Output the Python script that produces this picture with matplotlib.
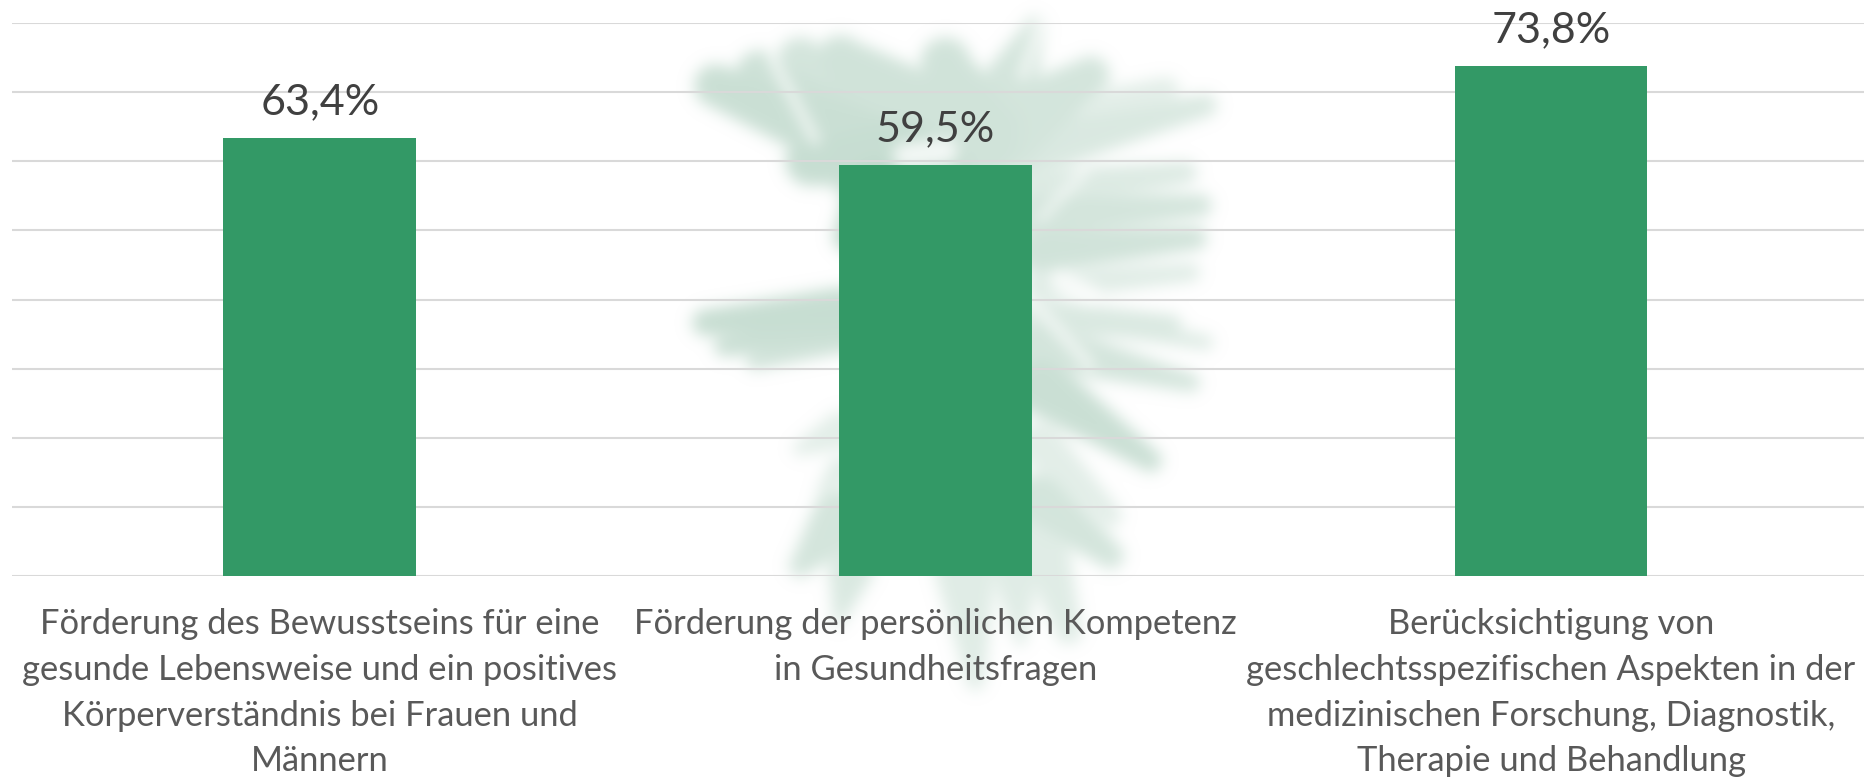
import numpy as np
import matplotlib
matplotlib.use("Agg")
import matplotlib.pyplot as plt

# Data
categories = [
    "Förderung des Bewusstseins für eine\ngesunde Lebensweise und ein positives\nKörperverständnis bei Frauen und\nMännern",
    "Förderung der persönlichen Kompetenz\nin Gesundheitsfragen",
    "Berücksichtigung von\ngeschlechtsspezifischen Aspekten in der\nmedizinischen Forschung, Diagnostik,\nTherapie und Behandlung",
]
values = [63.4, 59.5, 73.8]
value_labels = ["63,4%", "59,5%", "73,8%"]
y_ticks = [0, 10, 20, 30, 40, 50, 60, 70, 80]

W, H = 1865, 779

# Watermark feathers in pixels: x0, y0, x1, y1, root width, tip width, strength
feathers = [
    (930, 170, 715, 85, 50, 26, 0.85), (900, 180, 760, 75, 60, 30, 0.8), (880, 150, 800, 60, 55, 28, 0.7),
    (930, 140, 840, 60, 70, 30, 0.75), (960, 130, 945, 62, 70, 30, 0.75), (990, 130, 1035, 25, 50, 14, 0.7),
    (1010, 130, 1090, 75, 45, 24, 0.7), (1020, 150, 1205, 105, 34, 16, 0.6), (1020, 125, 1165, 90, 25, 18, 0.45),
    (900, 150, 810, 160, 40, 30, 0.9), (880, 190, 850, 235, 42, 22, 1.0),
    (1040, 190, 1185, 172, 26, 16, 0.55), (1040, 215, 1200, 205, 28, 16, 0.7), (1040, 250, 1195, 238, 28, 16, 0.75),
    (1040, 285, 1190, 272, 20, 14, 0.5), (1040, 318, 1170, 325, 24, 16, 0.6),
    (840, 310, 705, 322, 28, 18, 0.9), (840, 325, 725, 345, 26, 16, 0.85), (845, 335, 755, 360, 22, 14, 0.75),
    (1040, 312, 1205, 342, 20, 12, 0.55), (1040, 345, 1190, 382, 30, 14, 0.7), (1040, 385, 1150, 460, 34, 16, 0.85),
    (1040, 445, 1110, 515, 28, 16, 0.45), (1040, 500, 1110, 555, 32, 18, 0.7), (1040, 535, 1068, 630, 32, 18, 0.5),
    (840, 430, 800, 448, 24, 12, 0.45), (840, 470, 822, 490, 18, 10, 0.5), (840, 520, 800, 565, 36, 16, 0.7),
    (850, 570, 838, 620, 28, 10, 0.6), (965, 570, 975, 680, 36, 14, 0.5), (1015, 570, 1020, 640, 30, 10, 0.5),
]
# Lighter streaks in the watermark: x0, y0, x1, y1, width
streaks = [
    (770, 55, 815, 140, 7), (1040, 20, 1022, 75, 7), (1085, 170, 1040, 218, 6),
    (1035, 305, 1090, 365, 7), (1060, 280, 1090, 295, 13), (905, 155, 945, 150, 15),
]


def segment_param(xx, yy, x0, y0, x1, y1):
    dx, dy = x1 - x0, y1 - y0
    t = np.clip(((xx - x0) * dx + (yy - y0) * dy) / (dx * dx + dy * dy), 0, 1)
    dist = np.hypot(xx - (x0 + t * dx), yy - (y0 + t * dy))
    return t, dist


def blur(img, sigma):
    # separable gaussian, just to get the washed out look of the logo
    r = int(3 * sigma)
    k = np.exp(-0.5 * (np.arange(-r, r + 1) / sigma) ** 2)
    k /= k.sum()
    img = np.apply_along_axis(lambda m: np.convolve(m, k, mode='same'), 0, img)
    return np.apply_along_axis(lambda m: np.convolve(m, k, mode='same'), 1, img)


def watermark_image():
    yy, xx = np.mgrid[0:H, 0:W]
    alpha = np.zeros((H, W))
    for x0, y0, x1, y1, w0, w1, s in feathers:
        t, dist = segment_param(xx, yy, x0, y0, x1, y1)
        half = w0 + (w1 - w0) * t
        edge = np.clip((half - dist) / 10.0, 0, 1)
        alpha = np.maximum(alpha, edge * s)
    for x0, y0, x1, y1, w in streaks:
        t, dist = segment_param(xx, yy, x0, y0, x1, y1)
        alpha *= 1 - 0.8 * np.clip((w - dist) / 5.0, 0, 1)
    alpha = blur(alpha, 7)
    rgba = np.zeros((H, W, 4))
    rgba[..., 0] = 0xC2 / 255
    rgba[..., 1] = 0xDB / 255
    rgba[..., 2] = 0xCD / 255
    rgba[..., 3] = alpha
    return rgba


plt.rcParams['font.family'] = ['Lato', 'DejaVu Sans']

fig = plt.figure(figsize=(W / 100, H / 100), dpi=100, facecolor='white')

# Watermark behind everything, full figure
bg = fig.add_axes([0, 0, 1, 1], zorder=0)
bg.imshow(watermark_image(), extent=(0, W, H, 0), aspect='auto', interpolation='bilinear')
bg.axis('off')

ax = fig.add_axes([12 / W, 1 - 576 / H, (W - 12) / W, (576 - 23) / H], zorder=1)
ax.patch.set_alpha(0)

x = np.arange(len(values))
ax.bar(x, values, width=0.313, color='#339966', zorder=3)
for xi, v, lab in zip(x, values, value_labels):
    ax.annotate(lab, (xi, v), xytext=(0, 12), textcoords='offset points', ha='center', va='bottom',
                fontsize=31, color='#404040', zorder=4)

ax.set_xlim(-0.5, 2.51)
ax.set_ylim(0, 80)
ax.set_yticks(y_ticks)
ax.set_yticklabels([])
ax.set_xticks(x)
ax.set_xticklabels(categories, fontsize=24.8, color='#595959', linespacing=1.53)
ax.tick_params(axis='both', length=0)
ax.tick_params(axis='x', pad=23)
ax.grid(axis='y', color='#D9D9D9', linewidth=1.5, zorder=1)
ax.set_axisbelow(True)
for side in ['top', 'right', 'left', 'bottom']:
    ax.spines[side].set_visible(False)

fig.savefig('out.png', dpi=100)
